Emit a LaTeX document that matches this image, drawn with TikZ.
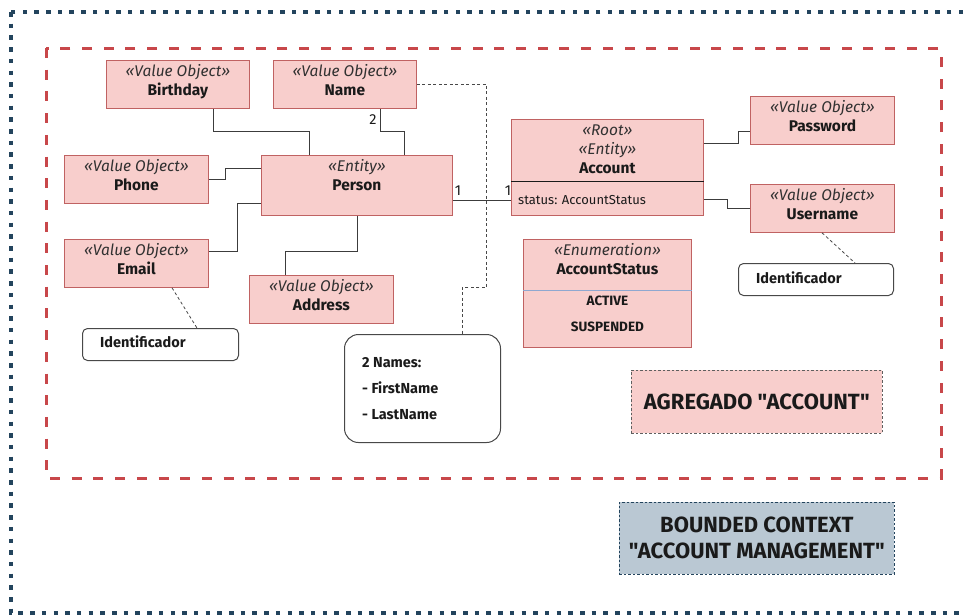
\documentclass[tikz,border=0pt]{standalone}
\usepackage{fontspec}
\setmainfont{Fira Sans}[Ligatures=TeXOff]
\usetikzlibrary{calc}
\definecolor{boxfill}{HTML}{F8CECC}
\definecolor{boxline}{HTML}{C06262}
\definecolor{ctxline}{HTML}{23445D}
\definecolor{ctxfill}{HTML}{BAC8D3}
\definecolor{aggline}{HTML}{C8474A}
\definecolor{ink}{HTML}{1A1A1A}
\definecolor{enumline}{HTML}{8FA8D0}
\begin{document}
\begin{tikzpicture}[x=1pt,y=-1pt,
  box/.style={draw=boxline, fill=boxfill, line width=0.8pt, inner sep=0pt, anchor=north west},
  vobox/.style={box, minimum width=144pt, minimum height=48pt},
  stereo/.style={anchor=base, font=\fontsize{15.5}{17}\selectfont\itshape, text=ink!90, inner sep=0pt},
  cname/.style={anchor=base, font=\fontsize{15.5}{17}\selectfont\bfseries, text=ink, inner sep=0pt},
  plain/.style={anchor=base, font=\fontsize{13}{15}\selectfont, text=ink, inner sep=0pt},
  literal/.style={anchor=base, font=\fontsize{13.5}{15}\selectfont\bfseries, text=ink, inner sep=0pt},
  notetext/.style={anchor=base west, font=\fontsize{14.5}{16}\selectfont\bfseries, text=ink, inner sep=0pt},
  conn/.style={draw=ink!85, line width=1pt},
  dashconn/.style={draw=ink!80, line width=0.8pt, dash pattern=on 3pt off 2.5pt},
  notebox/.style={draw=ink!80, fill=white, line width=1pt, anchor=north west, inner sep=0pt},
  banner/.style={font=\fontsize{22}{26}\selectfont\bfseries, text=ink, align=center}
]
\useasboundingbox (0,0) rectangle (966,614);

% bounded context frame and aggregate frame
\draw[ctxline, line width=4.5pt, dash pattern=on 4.5pt off 7.2pt] (11,12) rectangle (980,613);
\draw[aggline, line width=3pt, dash pattern=on 10pt off 11.7pt] (46,48) rectangle (941,478);

% classes
\node[vobox, minimum width=143pt] (birthday) at (106,60) {};
\node[vobox, minimum width=143pt] (name) at (273,60) {};
\node[vobox] (phone) at (64,155) {};
\node[box, minimum width=191pt, minimum height=60pt] (person) at (261,155) {};
\node[vobox] (email) at (64,239) {};
\node[vobox] (address) at (249,275) {};
\node[box, minimum width=192pt, minimum height=96pt] (account) at (511,119) {};
\node[vobox] (password) at (750,96) {};
\node[vobox] (username) at (750,184) {};
\node[box, minimum width=168pt, minimum height=108pt] (status) at (523,239) {};

% compartment dividers
\draw[ink, line width=1pt] ($(account.north west)+(0,62)$) -- ($(account.north east)+(0,62)$);
\draw[enumline, line width=1pt] ($(status.north west)+(0,51)$) -- ($(status.north east)+(0,51)$);

% notes
\node[notebox, rounded corners=5pt, minimum width=155pt, minimum height=32pt] (idr) at (738,263) {};
\node[notebox, rounded corners=5pt, minimum width=156pt, minimum height=32pt] (idl) at (82,328) {};
\node[notebox, rounded corners=14pt, minimum width=156pt, minimum height=108pt] (note) at (344,334) {};

% class texts
\node[stereo] (birthday-s) at ($(birthday.north)+(0,16.5)$) {«Value Object»};
\node[cname] (birthday-n) at ($(birthday.north)+(0,35)$) {Birthday};
\node[stereo] (name-s) at ($(name.north)+(0,16.5)$) {«Value Object»};
\node[cname] (name-n) at ($(name.north)+(0,35)$) {Name};
\node[stereo] (phone-s) at ($(phone.north)+(0,16.5)$) {«Value Object»};
\node[cname] (phone-n) at ($(phone.north)+(0,35)$) {Phone};
\node[stereo] (person-s) at ($(person.north)+(0,16.5)$) {«Entity»};
\node[cname] (person-n) at ($(person.north)+(0,35)$) {Person};
\node[stereo] (email-s) at ($(email.north)+(0,16.5)$) {«Value Object»};
\node[cname] (email-n) at ($(email.north)+(0,35)$) {Email};
\node[stereo] (address-s) at ($(address.north)+(0,16.5)$) {«Value Object»};
\node[cname] (address-n) at ($(address.north)+(0,35)$) {Address};
\node[stereo] (password-s) at ($(password.north)+(0,16.5)$) {«Value Object»};
\node[cname] (password-n) at ($(password.north)+(0,35)$) {Password};
\node[stereo] (username-s) at ($(username.north)+(0,16.5)$) {«Value Object»};
\node[cname] (username-n) at ($(username.north)+(0,35)$) {Username};
\node[stereo] (account-s1) at ($(account.north)+(0,16.5)$) {«Root»};
\node[stereo] (account-s2) at ($(account.north)+(0,35)$) {«Entity»};
\node[cname] (account-n) at ($(account.north)+(0,54.5)$) {Account};
\node[plain, anchor=base west] (account-a) at ($(account.north west)+(7,85)$) {status: AccountStatus};
\node[stereo] (status-s) at ($(status.north)+(0,16)$) {«Enumeration»};
\node[cname] (status-n) at ($(status.north)+(0,35)$) {AccountStatus};
\node[literal] (status-l1) at ($(status.north)+(0,66.5)$) {ACTIVE};
\node[literal] (status-l2) at ($(status.north)+(0,92)$) {SUSPENDED};

% note texts
\node[notetext] (idr-t) at ($(idr.north west)+(18,20)$) {Identificador};
\node[notetext] (idl-t) at ($(idl.north west)+(18,19)$) {Identificador};
\node[notetext] (note-1) at ($(note.north west)+(18,33)$) {2 Names:};
\node[notetext] (note-2) at ($(note.north west)+(18,59)$) {- FirstName};
\node[notetext] (note-3) at ($(note.north west)+(18,85)$) {- LastName};

% associations
\draw[conn] ($(birthday.south west)+(107,0)$) -- ++(0,23) -| ($(person.north west)+(48,0)$);
\draw[conn] ($(name.south west)+(107,0)$) -- ++(0,23) -| ($(person.north west)+(143,0)$);
\draw[conn] (phone.east) -- ++(17,0) |- ($(person.north west)+(0,13)$);
\draw[conn] ($(email.north east)+(0,12)$) -- ++(29,0) |- ($(person.south west)+(0,-12)$);
\draw[conn] ($(person.south west)+(96,0)$) -- ++(0,36) -| ($(address.north west)+(36,0)$);
\draw[conn] ($(person.south east)+(0,-15)$) -- ($(account.south west)+(0,-15)$);
\draw[conn] ($(account.north east)+(0,24)$) -- ++(35,0) |- ($(password.north west)+(0,35)$);
\draw[conn] ($(account.south east)+(0,-16)$) -- ++(24,0) |- ($(username.north west)+(0,24)$);

% multiplicities
\node[plain, font=\fontsize{14.5}{16}\selectfont] (m-person) at (458,195) {1};
\node[plain, font=\fontsize{14.5}{16}\selectfont] (m-account) at (508,195) {1};
\node[plain, font=\fontsize{14.5}{16}\selectfont] (m-name) at (373,124) {2};

% note links
\draw[dashconn] ($(username.south west)+(72,0)$) -- ($(idr.north west)+(117,0)$);
\draw[dashconn] ($(email.south west)+(108,0)$) -- ($(idl.north west)+(115,0)$);
\draw[dashconn] (name.east) -- ++(70,0) -- ++(0,203) -| ($(note.north west)+(118,0)$);

% titles
\node[draw=ink!70, fill=boxfill, line width=0.7pt, dash pattern=on 2.5pt off 2pt, minimum width=251pt, minimum height=63pt, anchor=north west] (agg) at (631,370) {};
\node[banner] (agg-t) at (agg.center) {AGREGADO "ACCOUNT"};
\node[draw=ctxline, fill=ctxfill, line width=0.7pt, dash pattern=on 2.5pt off 2pt, minimum width=275pt, minimum height=72pt, anchor=north west] (ctx) at (619,502) {};
\node[banner] (ctx-t) at (ctx.center) {BOUNDED CONTEXT\\"ACCOUNT MANAGEMENT"};
\end{tikzpicture}
\end{document}
